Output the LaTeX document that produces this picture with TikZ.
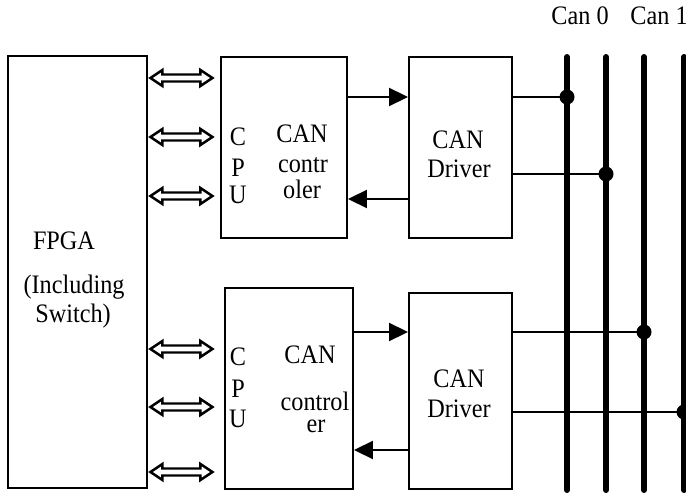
\documentclass[tikz,border=0pt]{standalone}
\usepackage{fontspec}
\setmainfont{Liberation Serif}
\usetikzlibrary{positioning, arrows.meta}

\begin{document}
\begin{tikzpicture}[x=0.02cm, y=-0.02cm,
    box/.style={draw, line width=1.1pt, inner sep=0pt},
    txt/.style={anchor=base, inner sep=0pt, yscale=1.1, transform shape,
        font=\fontsize{13.8}{16}\selectfont},
    sig/.style={line width=1.1pt, -{Triangle[length=0.38cm, width=0.36cm]}},
    wire/.style={line width=1pt},
    biarrow/.style={line width=1.4pt, line join=miter},
    bus/.style={line width=3.4pt, line cap=round},
    jdot/.style={circle, fill, inner sep=0pt, minimum size=0.3cm}]
    \useasboundingbox (0,0) rectangle (686,493);

    % Boxes
    \node[box, minimum width=2.78cm, minimum height=8.64cm] (fpga) at (77.5,272) {};
    \node[box, minimum width=2.52cm, minimum height=3.62cm] (cpuA) at (284,147.5) {};
    \node[box, minimum width=2.06cm, minimum height=3.62cm] (drvA) at (460.5,147.5) {};
    \node[box, minimum width=2.56cm, minimum height=4.02cm] (cpuB) at (289,388.5) {};
    \node[box, minimum width=2.06cm, minimum height=3.92cm] (drvB) at (460.5,391) {};

    % FPGA text
    \node[txt] (fpgaT1) at (64,250) {FPGA};
    \node[txt] (fpgaT2) at (74,293) {(Including};
    \node[txt] (fpgaT3) at (73,322) {Switch)};

    % Upper CPU / controller text
    \node[txt] (cA1) at (238,146) {C};
    \node[txt] (cA2) at (238,177) {P};
    \node[txt] (cA3) at (238,204) {U};
    \node[txt] (cA4) at (302,143) {CAN};
    \node[txt] (cA5) at (303,173) {contr};
    \node[txt] (cA6) at (302,199) {oler};

    % Lower CPU / controller text
    \node[txt] (cB1) at (238,365) {C};
    \node[txt] (cB2) at (238,397) {P};
    \node[txt] (cB3) at (238,427) {U};
    \node[txt] (cB4) at (310,363) {CAN};
    \node[txt] (cB5) at (315,410) {control};
    \node[txt] (cB6) at (316,432) {er};

    % Driver text
    \node[txt] (dA1) at (458,149) {CAN};
    \node[txt] (dA2) at (459,178) {Driver};
    \node[txt] (dB1) at (459,387) {CAN};
    \node[txt] (dB2) at (459,417) {Driver};

    % Bus labels
    \node[txt] (can0) at (580,25) {Can 0};
    \node[txt] (can1) at (659,25) {Can 1};

    % Bus lines
    \foreach \i/\x in {0/567,1/606,2/644,3/684} {
        \coordinate (t\i) at (\x,57);
        \coordinate (b\i) at (\x,490);
        \draw[bus] (t\i) -- (b\i);
    }

    % Junctions
    \node[jdot] (j0) at (567,97) {};
    \node[jdot] (j1) at (606,174) {};
    \node[jdot] (j2) at (644,332) {};
    \node[jdot] (j3) at (684,412) {};

    % Driver to bus
    \draw[wire] (drvA.east |- j0) -- (j0.center);
    \draw[wire] (drvA.east |- j1) -- (j1.center);
    \draw[wire] (drvB.east |- j2) -- (j2.center);
    \draw[wire] (drvB.east |- j3) -- (j3.center);

    % Controller <-> driver
    \draw[sig] (cpuA.east |- j0) -- (drvA.west |- j0);
    \draw[sig] (drvA.west |- 0,199) -- (cpuA.east |- 0,199);
    \draw[sig] (cpuB.east |- j2) -- (drvB.west |- j2);
    \draw[sig] (drvB.west |- 0,450) -- (cpuB.east |- 0,450);

    % FPGA <-> CPU (hollow double arrows)
    \foreach \y in {78,137,196,349,407,472}
        \draw[biarrow] ([xshift=0.05cm]fpga.east |- 0,\y) -- ++(12,-8) -- ++(0,4.5)
            -- ++(38,0) -- ++(0,-4.5) -- ++(12,8) -- ++(-12,8) -- ++(0,-4.5)
            -- ++(-38,0) -- ++(0,4.5) -- cycle;

\end{tikzpicture}
\end{document}
